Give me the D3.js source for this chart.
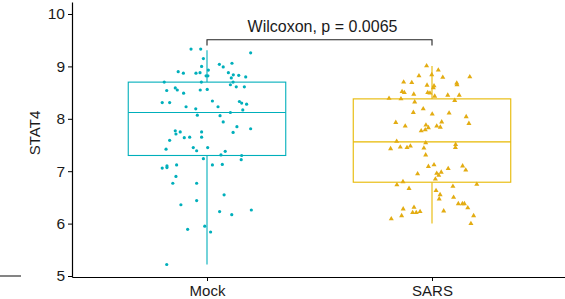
<!DOCTYPE html>
<html>
<head>
<meta charset="utf-8">
<script src="https://cdn.jsdelivr.net/npm/d3@7"></script>
<style>
  body { margin: 0; background: #fff; }
  text { font-family: "Liberation Sans", Arial, sans-serif; fill: #1a1a1a; }
  .axis path, .axis line { stroke: #000; }
</style>
</head>
<body>
<div id="chart"></div>
<script>
// STAT4 expression, Mock vs SARS - boxplot with jittered points

var groups = ["Mock", "SARS"];
var groupColors = ["#00AFBB", "#E7B800"];
var yTicks = [5, 6, 7, 8, 9, 10];
var testLabel = "Wilcoxon, p = 0.0065";

// box stats: lower whisker, Q1, median, Q3, upper whisker
var whiskerLow = [5.22, 6.00];
var boxQ1 = [7.30, 6.79];
var boxMedian = [8.12, 7.56];
var boxQ3 = [8.70, 8.38];
var whiskerHigh = [9.31, 9.01];

// jittered points (jitter in category units)
var mockValues = [9.33, 9.33, 9.26, 9.15, 9.04, 8.99, 9.06, 9.00, 8.93, 8.90, 8.87, 8.87, 8.88, 8.82, 8.82, 8.88, 8.84, 8.83, 8.78, 8.80,
  8.70, 8.70, 8.70, 8.65, 8.59, 8.55, 8.54, 8.49, 8.55, 8.56, 8.61, 8.61, 8.31, 8.31, 8.34, 8.33, 8.30, 8.28, 8.23, 8.19,
  8.23, 8.17, 8.12, 8.07, 8.06, 7.94, 7.85, 7.81, 7.77, 7.71, 7.75, 7.75, 7.74, 7.64, 7.65, 7.65, 7.59, 7.45, 7.39, 7.45,
  7.42, 7.38, 7.31, 7.30, 7.24, 7.22, 7.06, 7.10, 7.07, 7.12, 7.12, 7.13, 6.90, 6.77, 6.77, 6.55, 6.44, 6.36, 6.23, 6.17,
  6.26, 5.95, 5.89, 5.84, 5.22];
var mockJitter = [-0.071, -0.028, 0.194, -0.016, 0.055, 0.072, 0.111, -0.024, 0.006, -0.128, -0.105, -0.049, -0.031, -0.004, 0.004, 0.095, 0.117, 0.141, 0.108, 0.172,
  -0.190, -0.025, 0.116, 0.104, -0.141, -0.132, -0.179, -0.104, -0.030, 0.001, 0.130, 0.166, -0.199, -0.166, 0.024, 0.144, 0.154, 0.176, -0.093, -0.050,
  0.049, 0.159, 0.104, -0.043, 0.058, 0.072, 0.133, 0.194, -0.141, -0.138, -0.119, -0.024, 0.116, -0.101, -0.077, -0.024, -0.166, -0.061, -0.046, 0.003,
  -0.182, 0.081, 0.062, 0.154, -0.016, 0.152, -0.199, -0.178, -0.178, -0.135, 0.024, 0.068, -0.138, -0.152, -0.046, 0.076, -0.046, -0.116, 0.056, 0.110,
  0.197, -0.010, -0.086, 0.016, -0.179];

var sarsValues = [9.01, 8.93, 8.82, 8.84, 8.79, 8.80, 8.70, 8.69, 8.68, 8.65, 8.64, 8.63, 8.59, 8.52, 8.50, 8.47, 8.50, 8.49, 8.43, 8.45,
  8.45, 8.39, 8.38, 8.32, 8.35, 8.12, 8.19, 8.09, 8.11, 8.04, 7.93, 7.86, 7.88, 7.83, 7.79, 7.77, 7.94, 7.86, 7.84, 7.91,
  7.57, 7.54, 7.51, 7.45, 7.43, 7.46, 7.45, 7.48, 7.44, 7.31, 7.09, 7.12, 7.05, 7.10, 7.02, 6.95, 6.96, 6.98, 6.92, 6.85,
  6.80, 6.74, 6.67, 6.71, 6.75, 6.63, 6.55, 6.47, 6.50, 6.38, 6.38, 6.38, 6.30, 6.28, 6.31, 6.21, 6.21, 6.23, 6.24, 6.09,
  6.15, 6.15, 6.00];
var sarsJitter = [-0.024, 0.028, -0.058, -0.001, 0.048, 0.168, -0.126, -0.090, 0.110, 0.111, -0.022, 0.009, 0.006, -0.133, -0.123, -0.081, -0.019, -0.009, 0.012, 0.070,
  0.121, -0.191, -0.138, -0.077, 0.101, -0.083, -0.039, 0.001, 0.076, 0.152, -0.161, -0.119, -0.027, -0.016, -0.030, -0.048, 0.043, 0.021, 0.037, 0.164,
  -0.157, -0.028, 0.105, 0.104, -0.184, -0.141, -0.111, -0.096, -0.036, -0.028, -0.016, 0.009, 0.072, 0.136, 0.150, -0.064, 0.021, 0.041, 0.030, 0.015,
  -0.129, -0.156, -0.102, 0.093, 0.199, 0.018, 0.036, 0.032, 0.096, 0.117, 0.135, 0.144, 0.159, -0.128, -0.080, -0.086, -0.070, -0.053, 0.052, -0.181,
  -0.135, 0.185, 0.173];

var width = 565, height = 299;
var margin = {top: 2, left: 72, bottom: 22};
var boxWidth = 0.7;

var x = d3.scaleLinear()
    .domain([0.4, 2.6])
    .range([margin.left, 567]);

var y = d3.scaleLinear()
    .domain([4.981, 10.229])
    .range([height - margin.bottom, margin.top]);

var svg = d3.select("#chart")
    .append("svg")
    .attr("width", width)
    .attr("height", height);

//stray axis piece from neighbouring panel
svg.append("line")
    .attr("x1", 0).attr("x2", 21)
    .attr("y1", 276).attr("y2", 276)
    .attr("stroke", "#333")
    .attr("stroke-width", 1.2);

//boxes
var boxes = svg.append("g");
groups.forEach(function(g, i) {
    var cx = x(i + 1);
    var col = groupColors[i];
    boxes.append("line")
        .attr("x1", cx).attr("x2", cx)
        .attr("y1", y(boxQ3[i])).attr("y2", y(whiskerHigh[i]))
        .attr("stroke", col).attr("stroke-width", 1.1);
    boxes.append("line")
        .attr("x1", cx).attr("x2", cx)
        .attr("y1", y(boxQ1[i])).attr("y2", y(whiskerLow[i]))
        .attr("stroke", col).attr("stroke-width", 1.1);
    boxes.append("rect")
        .attr("x", x(i + 1 - boxWidth / 2))
        .attr("y", y(boxQ3[i]))
        .attr("width", x(i + 1 + boxWidth / 2) - x(i + 1 - boxWidth / 2))
        .attr("height", y(boxQ1[i]) - y(boxQ3[i]))
        .attr("fill", "white")
        .attr("stroke", col).attr("stroke-width", 1.1);
    boxes.append("line")
        .attr("x1", x(i + 1 - boxWidth / 2)).attr("x2", x(i + 1 + boxWidth / 2))
        .attr("y1", y(boxMedian[i])).attr("y2", y(boxMedian[i]))
        .attr("stroke", col).attr("stroke-width", 1.1);
});

//points
svg.append("g")
    .selectAll("circle")
    .data(mockValues)
    .enter()
    .append("circle")
    .attr("cx", (d, i) => x(1 + mockJitter[i]))
    .attr("cy", d => y(d))
    .attr("r", 1.6)
    .attr("fill", groupColors[0]);

var tri = d3.symbol().type(d3.symbolTriangle).size(11);
svg.append("g")
    .selectAll("path")
    .data(sarsValues)
    .enter()
    .append("path")
    .attr("d", tri)
    .attr("transform", (d, i) => "translate(" + x(2 + sarsJitter[i]) + "," + y(d) + ")")
    .attr("fill", "#E3AC12");

//axes
var yAxis = svg.append("g")
    .attr("class", "axis")
    .attr("transform", "translate(" + margin.left + ",0)")
    .call(d3.axisLeft(y).tickValues(yTicks).tickFormat(d3.format("d"))
        .tickSize(4).tickSizeOuter(0).tickPadding(3));
yAxis.select(".domain").attr("stroke-width", 1.2);
yAxis.selectAll(".tick text").style("font-size", "15.5px").attr("fill", "#1a1a1a");

var xAxis = svg.append("g")
    .attr("class", "axis")
    .attr("transform", "translate(0," + (height - margin.bottom) + ")")
    .call(d3.axisBottom(x).tickValues([1, 2]).tickFormat(d => groups[d - 1])
        .tickSize(4).tickSizeOuter(0).tickPadding(4.5));
xAxis.select(".domain").attr("stroke-width", 1.2);
xAxis.selectAll(".tick text").style("font-size", "15px").attr("fill", "#1a1a1a");

svg.append("text")
    .attr("transform", "translate(35," + 133 + ") rotate(-90)")
    .attr("dy", "0.35em")
    .style("text-anchor", "middle")
    .style("font-size", "15px")
    .text("STAT4");

//comparison bracket
var bracketY = 9.51, tipY = 9.40;
svg.append("path")
    .attr("d", "M" + x(1) + "," + y(tipY) + "V" + y(bracketY) + "H" + x(2) + "V" + y(tipY))
    .attr("fill", "none")
    .attr("stroke", "#222")
    .attr("stroke-width", 1.1);
svg.append("text")
    .attr("x", (x(1) + x(2)) / 2 + 3)
    .attr("y", y(bracketY) - 8)
    .style("text-anchor", "middle")
    .style("font-size", "16px")
    .text(testLabel);
</script>
</body>
</html>
